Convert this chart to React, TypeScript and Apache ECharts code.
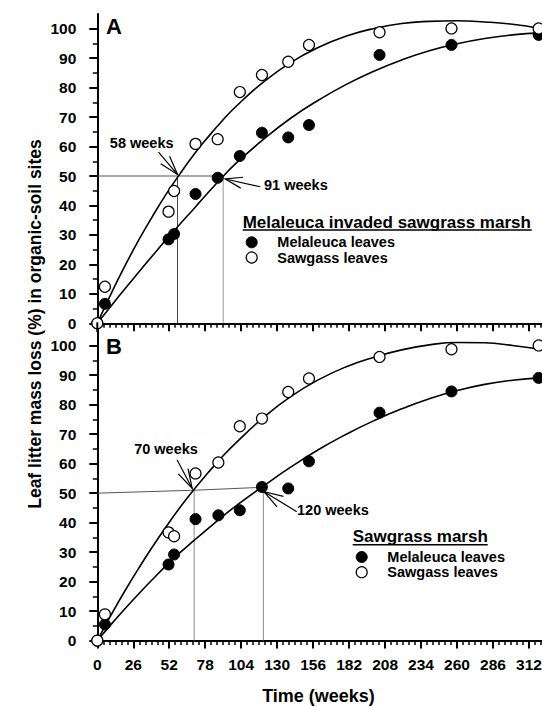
import React, { useEffect, useRef } from "react";
import * as echarts from "echarts";

// ---------- data ----------
const xTicks = [0, 26, 52, 78, 104, 130, 156, 182, 208, 234, 260, 286, 312];
const yTicks = [0, 10, 20, 30, 40, 50, 60, 70, 80, 90, 100];

const sampleWeeksA = [0, 5.5, 51.5, 55.5, 71, 87, 103, 119, 138, 153, 204, 256, 319];
const melaleucaA = [0, 6.6, 28.5, 30.3, 43.9, 49.4, 56.8, 64.7, 63.1, 67.3, 91.1, 94.5, 97.9];
const sawgrassA = [0, 12.4, 37.9, 44.9, 60.9, 62.5, 78.5, 84.3, 88.8, 94.5, 98.8, 100.1, 100.1];

const sampleWeeksB = [0, 5.5, 51.5, 55.5, 71, 87.5, 103, 119, 138, 153, 204, 256, 319];
const melaleucaB = [0, 5.5, 25.8, 29.2, 41.2, 42.5, 44.2, 52.1, 51.6, 60.8, 77.3, 84.5, 89.1];
const sawgrassB = [0, 8.9, 36.7, 35.4, 56.7, 60.4, 72.7, 75.3, 84.3, 88.9, 96.2, 98.8, 100.1];

// fitted curves
const fitWeeks = [0, 10, 20, 30, 40, 50, 60, 70, 80, 90, 100, 120, 140, 160, 180, 200, 220, 240, 260, 280, 300, 320];
const fitSawgrassA = [0, 10.1, 19.5, 28.3, 36.4, 44.0, 50.9, 57.4, 63.2, 68.6, 73.5, 81.9, 88.6, 93.7, 97.5, 100.1, 101.8, 102.5, 102.7, 102.3, 101.5, 100.1];
const fitMelaleucaA = [0, 5.9, 11.7, 17.4, 23.0, 28.5, 33.8, 39.0, 44.3, 49.4, 54.2, 62.4, 69.7, 75.8, 81.1, 85.6, 89.4, 92.5, 94.9, 96.7, 97.9, 98.6];
const fitSawgrassB = [0, 8.7, 16.9, 24.6, 31.9, 38.8, 45.3, 51.3, 56.9, 62.2, 67.0, 75.6, 82.8, 88.5, 92.9, 96.1, 98.6, 100.3, 101.1, 101.0, 100.1, 98.8];
const fitMelaleucaB = [0, 5.5, 10.8, 15.9, 20.8, 25.5, 29.9, 34.0, 38.0, 41.9, 45.6, 52.4, 58.9, 64.8, 70.0, 74.6, 78.6, 82.0, 84.8, 86.9, 88.3, 89.1];

// 50 % mass-loss guide lines
const halfLineA = [[0, 50], [91, 50]];
const halfDropA1 = [[58, 50], [58, 0]];
const halfDropA2 = [[91, 50], [91, 0]];
const halfLineB = [[0, 50], [70, 51], [120, 52]];
const halfDropB1 = [[70, 51], [70, 0]];
const halfDropB2 = [[120, 52], [120, 0]];

const FONT = '"Liberation Sans", Arial, Helvetica, sans-serif';

const zip = (xs: number[], ys: number[]) => xs.map((x, i) => [x, ys[i]]);

function xAxis(gridIndex: number, labels: boolean) {
  return {
    type: "value",
    gridIndex,
    min: 0,
    max: 322,
    interval: 26,
    axisLine: { show: true, onZero: false, lineStyle: { color: "#000", width: 2 } },
    axisTick: { show: true, inside: false, length: 8, customValues: xTicks, lineStyle: { color: "#000", width: 2 } },
    minorTick: { show: true, splitNumber: 6, length: 4.5, lineStyle: { color: "#000", width: 1.5 } },
    axisLabel: {
      show: labels,
      customValues: xTicks,
      margin: 16,
      color: "#000",
      fontSize: 15.5,
      fontWeight: "bold",
      fontFamily: FONT,
    },
    splitLine: { show: false },
    minorSplitLine: { show: false },
  };
}

function yAxis(gridIndex: number) {
  return {
    type: "value",
    gridIndex,
    min: 0,
    max: 105,
    interval: 10,
    axisLine: { show: true, onZero: false, lineStyle: { color: "#000", width: 2 } },
    axisTick: { show: true, inside: false, length: 8, customValues: yTicks, lineStyle: { color: "#000", width: 2 } },
    minorTick: { show: true, splitNumber: 2, length: 4.5, lineStyle: { color: "#000", width: 1.5 } },
    axisLabel: {
      customValues: yTicks,
      margin: 21,
      color: "#000",
      fontSize: 15.5,
      fontWeight: "bold",
      fontFamily: FONT,
    },
    splitLine: { show: false },
    minorSplitLine: { show: false },
  };
}

function guide(g: number, data: number[][], color: string) {
  return {
    type: "line",
    xAxisIndex: g,
    yAxisIndex: g,
    data,
    symbol: "none",
    silent: true,
    z: 1,
    clip: false,
    lineStyle: { color, width: 1, opacity: 1 },
  };
}

function fit(g: number, ys: number[]) {
  return {
    type: "line",
    xAxisIndex: g,
    yAxisIndex: g,
    data: zip(fitWeeks, ys),
    smooth: true,
    symbol: "none",
    z: 2,
    clip: false,
    lineStyle: { color: "#000", width: 1.6, opacity: 1 },
  };
}

function dots(g: number, name: string, xs: number[], ys: number[], open: boolean) {
  return {
    type: "scatter",
    name,
    xAxisIndex: g,
    yAxisIndex: g,
    data: zip(xs, ys),
    symbol: "circle",
    symbolSize: 11,
    z: open ? 4 : 3,
    clip: false,
    itemStyle: open
      ? { color: "#fff", borderColor: "#000", borderWidth: 1.2, opacity: 1 }
      : { color: "#000", borderColor: "#000", borderWidth: 1, opacity: 1 },
  };
}

function buildOption() {
  return {
    animation: false,
    backgroundColor: "#fff",
    grid: [
      { left: 97.3, top: 14, width: 445.5, height: 309.3, outerBoundsMode: "none", containLabel: false },
      { left: 97.3, top: 331, width: 445.5, height: 309.6, outerBoundsMode: "none", containLabel: false },
    ],
    xAxis: [xAxis(0, false), xAxis(1, true)],
    yAxis: [yAxis(0), yAxis(1)],
    series: [
      guide(0, halfLineA, "#555"),
      guide(0, halfDropA1, "#444"),
      guide(0, halfDropA2, "#999"),
      fit(0, fitSawgrassA),
      fit(0, fitMelaleucaA),
      dots(0, "Melaleuca leaves", sampleWeeksA, melaleucaA, false),
      dots(0, "Sawgass leaves", sampleWeeksA, sawgrassA, true),
      guide(1, halfLineB, "#555"),
      guide(1, halfDropB1, "#888"),
      guide(1, halfDropB2, "#888"),
      fit(1, fitSawgrassB),
      fit(1, fitMelaleucaB),
      dots(1, "Melaleuca leaves", sampleWeeksB, melaleucaB, false),
      dots(1, "Sawgass leaves", sampleWeeksB, sawgrassB, true),
    ],
  };
}

function txt(text: string, x: number, y: number, size: number, align = "left", extra: any = {}) {
  return {
    type: "text",
    x,
    y,
    z: 100,
    ...extra,
    style: {
      text,
      fill: "#000",
      fontSize: size,
      fontWeight: "bold",
      fontFamily: FONT,
      align,
      verticalAlign: "middle",
    },
  };
}

function seg(x1: number, y1: number, x2: number, y2: number, w = 1.5) {
  return { type: "line", z: 100, shape: { x1, y1, x2, y2 }, style: { stroke: "#000", lineWidth: w } };
}

function arrow(tip: number[], tailVec: number[], wingLen: number, wingDeg: number) {
  const [tx, ty] = tip;
  const len = Math.hypot(tailVec[0], tailVec[1]);
  const dx = tailVec[0] / len;
  const dy = tailVec[1] / len;
  const a = (wingDeg * Math.PI) / 180;
  const rot = (s: number) => [
    tx + wingLen * (dx * Math.cos(s * a) - dy * Math.sin(s * a)),
    ty + wingLen * (dx * Math.sin(s * a) + dy * Math.cos(s * a)),
  ];
  return [
    seg(tx, ty, tx + tailVec[0], ty + tailVec[1], 1.2),
    {
      type: "polyline",
      z: 100,
      shape: { points: [rot(1), [tx, ty], rot(-1)] },
      style: { stroke: "#000", lineWidth: 1.2, fill: "none" },
    },
  ];
}

function legend(x: number, y: number, title: string, underline: number) {
  return [
    txt(title, x, y, 17),
    seg(x, y + 8, x + underline, y + 8, 1.5),
    { type: "circle", z: 100, shape: { cx: x + 9, cy: y + 20.3, r: 5.5 }, style: { fill: "#000", stroke: "#000", lineWidth: 1 } },
    txt("Melaleuca leaves", x + 34.6, y + 20.3, 14.5),
    { type: "circle", z: 100, shape: { cx: x + 9, cy: y + 35.5, r: 5.5 }, style: { fill: "#fff", stroke: "#000", lineWidth: 1.2 } },
    txt("Sawgass leaves", x + 34.6, y + 35.5, 14.5),
  ];
}

function buildGraphic(chart: any) {
  const px = (g: number, p: number[]) => chart.convertToPixel({ gridIndex: g }, p) as number[];
  const off = (p: number[], d: number[]) => [p[0] + d[0], p[1] + d[1]];
  const a58 = off(px(0, halfDropA1[0]), [0, -1.5]);
  const a91 = off(px(0, halfDropA2[0]), [2, 3]);
  const b70 = off(px(1, halfDropB1[0]), [-2, -2]);
  const b120 = off(px(1, halfDropB2[0]), [0.7, 4.4]);
  const axisX = px(0, [0, 0])[0];
  const topBottom = px(0, [0, 0])[1];
  const bottomTop = px(1, [0, 105])[1];
  return [
    seg(axisX, topBottom - 1, axisX, bottomTop + 1, 2),
    txt("A", 106, 26, 22),
    txt("B", 106, 346, 22),
    txt("58 weeks", 141.7, 143.3, 14.5, "center"),
    txt("91 weeks", 264, 185, 14.5),
    txt("70 weeks", 166, 449.3, 14.5, "center"),
    txt("120 weeks", 297, 510, 14.5),
    ...arrow(a58, [-19, -22.3], 20, 17),
    ...arrow(a91, [35, 7.7], 18, 18),
    ...arrow(b70, [-15, -28.3], 20, 16),
    ...arrow(b120, [32.7, 20], 20, 18),
    ...legend(242.7, 222, "Melaleuca invaded sawgrass marsh", 289),
    ...legend(352.7, 536.7, "Sawgrass marsh", 135),
    txt("Time (weeks)", 318.5, 696, 18, "center"),
    txt("Leaf litter mass loss (%) in organic-soil sites", 35, 324, 17.5, "center", { rotation: Math.PI / 2 }),
  ];
}

export default function App() {
  const ref = useRef<HTMLDivElement>(null);
  useEffect(() => {
    document.body.style.margin = "0";
    const chart = echarts.init(ref.current as HTMLDivElement, null, { renderer: "svg" });
    chart.setOption(buildOption() as any);
    chart.setOption({ graphic: buildGraphic(chart) } as any);
    return () => chart.dispose();
  }, []);
  return (
    <div
      ref={ref}
      style={{ position: "absolute", left: 0, top: 0, width: 542, height: 707, background: "#fff" }}
    />
  );
}
